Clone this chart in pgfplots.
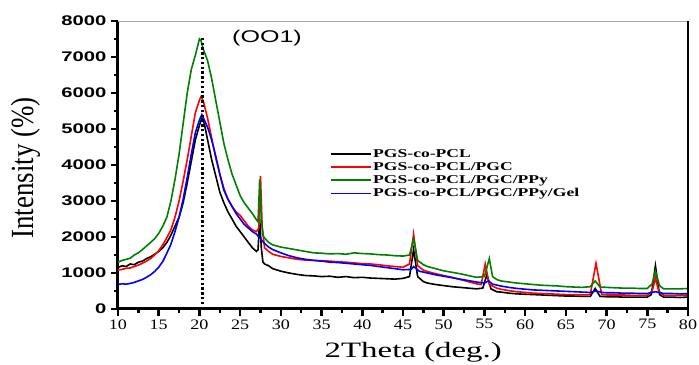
\documentclass[border=0pt]{standalone}
\usepackage{pgfplots}
\pgfplotsset{compat=1.18}
\usepackage{fontspec}
\setmainfont{Liberation Serif}
\newfontfamily\ytf[FakeStretch=1.45]{Liberation Sans}
\newfontfamily\xtf[FakeStretch=1.25]{Liberation Serif}
\newfontfamily\lgf[FakeStretch=1.47]{Liberation Serif}
\newfontfamily\xlf[FakeStretch=1.5]{Liberation Serif}
\newfontfamily\annf[FakeStretch=1.48]{Liberation Sans}
\definecolor{cgreen}{RGB}{0,128,0}
\definecolor{cred}{RGB}{255,0,0}
\definecolor{cblue}{RGB}{0,0,255}
\begin{document}
\begin{tikzpicture}
\begin{axis}[
  scale only axis, width=570bp, height=288bp,
  xmin=10, xmax=80, ymin=0, ymax=8000,
  axis lines=left, axis line style={-, line width=3bp},
  xtick={10,15,...,80}, ytick={0,1000,...,8000},
  minor x tick num=1, minor y tick num=1,
  tick align=outside,
  major tick length=7bp, minor tick length=4bp,
  every tick/.style={black, line width=2.5bp},
  /pgf/number format/assume math mode=true,
  /pgf/number format/1000 sep={},
  scaled y ticks=false,
  yticklabel style={font=\ytf\bfseries\fontsize{14}{14}\selectfont, xshift=-1bp},
  xticklabel style={font=\xtf\fontsize{14.5}{14.5}\selectfont},
  xlabel={2Theta (deg.)},
  xlabel style={at={(rel axis cs:0.518,0)}, anchor=center, yshift=-43bp, font=\xlf\fontsize{22}{22}\selectfont},
  ylabel={\scalebox{1}[1.2]{Intensity (\%)}},
  ylabel style={at={(rel axis cs:0,0.49)}, anchor=center, yshift=92bp, font=\fontsize{27}{27}\selectfont},
  legend style={at={(rel axis cs:0.372,0.56)}, anchor=north west, draw=none, fill=none,
    inner sep=0pt, row sep=0.6bp, nodes={inner sep=1.5bp, anchor=west},
    font=\lgf\bfseries\fontsize{12}{12}\selectfont},
  legend cell align=left,
  legend image code/.code={\draw[#1, line width=1.5bp] (0bp,0bp) -- (40bp,0bp);},
  clip=false,
]
\addplot[black, line width=1.6bp] coordinates {
(10,1150)(10.5,1200)(11,1180)(11.5,1250)(12,1230)(12.5,1300)(13,1330)(13.5,1400)(14,1450)(14.5,1520)
(15,1600)(15.5,1700)(16,1850)(16.5,2050)(17,2300)(17.5,2550)(18,2950)(18.5,3500)(19,4100)(19.5,4700)
(20,5100)(20.3,5300)(20.6,5150)(21,4700)(21.5,4150)(22,3700)(22.5,3250)(23,2950)(23.5,2700)(24,2500)
(24.5,2300)(25,2150)(25.5,2000)(26,1850)(26.5,1700)(27,1600)(27.2,1650)(27.4,2500)(27.6,1700)(27.8,1300)
(28,1250)(28.5,1200)(29,1120)(30,1050)(31,1000)(32,960)(33,930)(34,920)(35,900)(36,910)(37,880)(38,900)
(39,870)(40,880)(41,860)(42,850)(43,840)(44,830)(45,850)(45.8,900)(46.3,1650)(46.8,900)(47.5,760)(48,720)
(49,680)(50,650)(51,620)(52,600)(53,580)(54,560)(54.8,580)(55.3,950)(55.8,560)(56.5,480)(57,470)(58,440)
(59,420)(60,410)(61,400)(62,390)(63,380)(64,370)(65,360)(66,360)(67,350)(68,350)(68.6,570)(69.2,350)
(70,340)(71,340)(72,330)(73,330)(74,330)(75,330)(75.5,400)(76,1200)(76.5,400)(77,330)(78,330)(79,320)(80,330)};
\addlegendentry{PGS-co-PCL}
\addplot[cred, line width=1.6bp] coordinates {
(10,1080)(10.5,1100)(11,1130)(11.5,1140)(12,1180)(12.5,1220)(13,1270)(13.5,1330)(14,1400)(14.5,1500)
(15,1620)(15.5,1780)(16,1980)(16.5,2200)(17,2550)(17.5,3000)(18,3550)(18.5,4150)(19,4800)(19.5,5450)
(20,5800)(20.2,5900)(20.5,5750)(21,5300)(21.5,4750)(22,4200)(22.5,3750)(23,3350)(23.5,3050)(24,2850)
(24.5,2700)(25,2600)(25.5,2450)(26,2300)(26.5,2200)(27,2150)(27.3,2250)(27.5,3700)(27.7,2300)(28,1700)
(28.5,1600)(29,1520)(30,1460)(31,1420)(32,1380)(33,1360)(34,1350)(35,1340)(36,1330)(37,1310)(38,1300)
(39,1280)(40,1260)(41,1250)(42,1230)(43,1200)(44,1180)(45,1160)(45.8,1250)(46.3,2080)(46.8,1200)(47.5,1080)
(48,1040)(49,980)(50,930)(51,880)(52,820)(53,760)(54,700)(54.6,680)(55.1,1250)(55.6,680)(56.5,580)(57,550)
(58,510)(59,480)(60,460)(61,440)(62,430)(63,420)(64,410)(65,400)(66,400)(67,390)(68,400)(68.4,900)(68.7,1270)
(69,900)(69.4,400)(70,390)(71,390)(72,390)(73,380)(74,380)(75,380)(75.6,500)(76,860)(76.4,500)(77,380)
(78,380)(79,380)(80,390)};
\addlegendentry{PGS-co-PCL/PGC}
\addplot[cgreen, line width=1.6bp] coordinates {
(10,1300)(10.5,1350)(11,1380)(11.5,1410)(12,1500)(12.5,1560)(13,1650)(13.5,1750)(14,1850)(14.5,1950)
(15,2100)(15.5,2300)(16,2550)(16.5,3000)(17,3600)(17.5,4300)(18,5150)(18.5,6000)(19,6650)(19.5,7050)
(20,7500)(20.2,7450)(20.5,7200)(21,6900)(21.5,6400)(22,5800)(22.5,5200)(23,4600)(23.5,4150)(24,3750)
(24.5,3450)(25,3150)(25.5,2950)(26,2800)(26.5,2650)(27,2480)(27.2,2420)(27.4,3600)(27.6,2500)(27.8,2050)
(28,1970)(28.5,1850)(29,1780)(30,1720)(31,1680)(32,1640)(33,1600)(34,1560)(35,1550)(36,1530)(37,1540)
(38,1520)(39,1560)(40,1540)(41,1530)(42,1510)(43,1500)(44,1480)(45,1470)(45.8,1500)(46.3,1950)(46.8,1350)
(47.5,1230)(48,1180)(49,1120)(50,1060)(51,1020)(52,980)(53,930)(54,880)(55,900)(55.6,1400)(56,900)(56.5,820)
(57,780)(58,750)(59,720)(60,700)(61,680)(62,660)(63,650)(64,640)(65,620)(66,610)(67,600)(68,620)(68.6,780)
(69.2,610)(70,600)(71,590)(72,580)(73,580)(74,570)(75,570)(75.6,700)(76,1050)(76.5,650)(77,560)(78,560)
(79,560)(80,570)};
\addlegendentry{PGS-co-PCL/PGC/PPy}
\addplot[cblue, line width=1.6bp] coordinates {
(10,680)(10.5,700)(11,690)(11.5,710)(12,740)(12.5,780)(13,820)(13.5,880)(14,950)(14.5,1040)
(15,1160)(15.5,1320)(16,1550)(16.5,1800)(17,2150)(17.5,2550)(18,3050)(18.5,3650)(19,4300)(19.5,4900)
(20,5250)(20.3,5400)(20.6,5250)(21,5050)(21.5,4700)(22,4250)(22.5,3750)(23,3300)(23.5,3050)(24,2850)
(24.5,2650)(25,2500)(25.5,2350)(26,2250)(26.5,2150)(27,2080)(27.5,1950)(28,1820)(28.5,1720)(29,1650)
(30,1560)(31,1480)(32,1420)(33,1380)(34,1350)(35,1330)(36,1300)(37,1290)(38,1270)(39,1250)(40,1230)
(41,1210)(42,1180)(43,1150)(44,1120)(45,1090)(46,1100)(46.3,1180)(47,1050)(48,1000)(49,950)(50,910)
(51,870)(52,830)(53,790)(54,750)(55,720)(55.5,780)(56,690)(57,640)(58,600)(59,570)(60,550)(61,530)
(62,520)(63,510)(64,500)(65,490)(66,480)(67,470)(68,460)(68.7,500)(69.5,460)(70,450)(71,450)(72,440)
(73,440)(74,430)(75,430)(76,480)(77,430)(78,430)(79,420)(80,430)};
\addlegendentry{PGS-co-PCL/PGC/PPy/Gel}
\addplot[black, line width=2.6bp, dash pattern=on 2.4bp off 2.4bp, forget plot] coordinates {(20.4,0)(20.4,7550)};
\node[font=\annf\fontsize{17}{17}\selectfont] at (axis cs:28.3,7530) {(OO1)};
\draw[gray!70, line width=0.8bp] (rel axis cs:0,1) -- (rel axis cs:1,1);
\draw[black, line width=1.2bp] (rel axis cs:1,0) -- (rel axis cs:1,1);
\coordinate (bl) at (rel axis cs:0,0);
\coordinate (tr) at (rel axis cs:1,1);
\end{axis}
\pgfresetboundingbox
\path ([shift={(-118bp,-56bp)}]bl) rectangle ([shift={(11bp,21bp)}]tr);
\end{tikzpicture}
\end{document}
